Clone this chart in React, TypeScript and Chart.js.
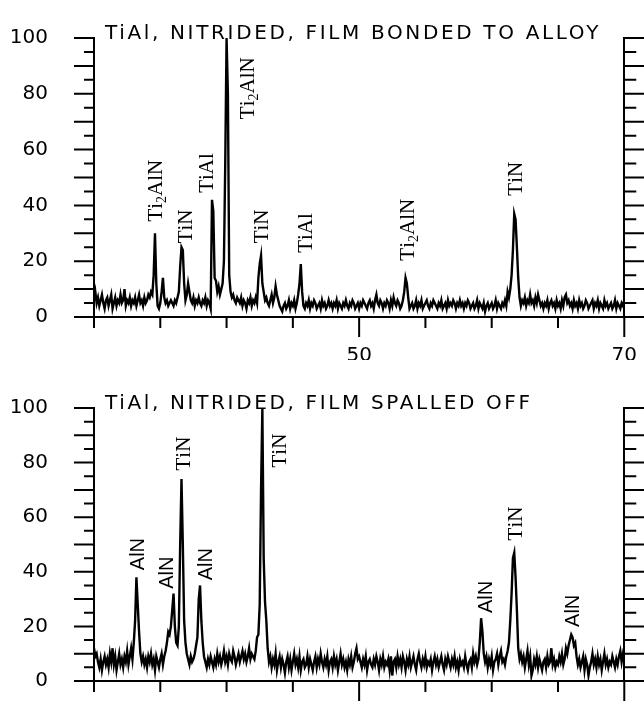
import React, { useEffect, useRef } from 'react';
import { Chart, registerables } from 'chart.js';

Chart.register(...registerables);

// ---------- axes ----------
const twoThetaStart = 30;
const twoThetaStep = 0.1;
const xMin = 30;
const xMax = 70;
const xTickValues = [50, 70];
const xMinorTickValues = [30, 35, 40, 45, 50, 55, 60, 65, 70];
const yTickValues = [0, 20, 40, 60, 80, 100];
const yMinorTickValues = [0, 5, 10, 15, 20, 25, 30, 35, 40, 45, 50, 55, 60, 65, 70, 75, 80, 85, 90, 95, 100];

// ---------- top panel: film bonded to alloy ----------
const bondedTitle = 'TiAl, NITRIDED, FILM BONDED TO ALLOY';
const bondedIntensity = [
  6, 9, 5, 7, 4, 6, 8, 5, 3, 6, // 30
  7, 4, 6, 8, 3, 5, 7, 4, 6, 5, // 31
  8, 5, 6, 10, 4, 6, 5, 7, 4, 6, // 32
  5, 7, 4, 6, 8, 5, 6, 4, 7, 5, // 33
  6, 8, 7, 9, 8, 15, 30, 12, 4, 3, // 34
  5, 9, 14, 7, 5, 6, 4, 5, 6, 5, // 35
  4, 6, 5, 7, 9, 18, 25, 24, 12, 6, // 36
  8, 12, 9, 6, 5, 7, 4, 6, 5, 7, // 37
  5, 4, 6, 5, 7, 4, 6, 5, 3, 42, // 38
  38, 14, 13, 9, 11, 8, 10, 12, 20, 55, // 39
  100, 80, 15, 9, 7, 8, 6, 5, 7, 6, // 40
  5, 7, 4, 6, 5, 3, 6, 5, 7, 4, // 41
  6, 5, 7, 5, 14, 19, 22, 12, 9, 6, // 42
  7, 5, 4, 6, 8, 5, 7, 11, 8, 6, // 43
  4, 3, 2, 4, 5, 3, 4, 6, 3, 5, // 44
  4, 6, 3, 5, 8, 12, 19, 9, 4, 3, // 45
  5, 4, 6, 3, 5, 4, 6, 5, 3, 4, // 46
  5, 3, 6, 4, 5, 3, 4, 6, 4, 5, // 47
  3, 5, 4, 6, 3, 5, 4, 3, 5, 4, // 48
  6, 4, 3, 5, 4, 6, 5, 3, 4, 5, // 49
  3, 5, 4, 6, 5, 4, 3, 5, 6, 4, // 50
  5, 3, 6, 8, 5, 4, 6, 5, 3, 5, // 51
  4, 6, 5, 3, 6, 4, 7, 5, 4, 6, // 52
  5, 3, 4, 6, 9, 14, 12, 7, 3, 4, // 53
  5, 3, 4, 6, 3, 5, 4, 6, 3, 4, // 54
  5, 6, 4, 3, 5, 4, 6, 5, 4, 3, // 55
  5, 4, 6, 3, 4, 5, 3, 6, 4, 5, // 56
  4, 6, 5, 3, 5, 4, 6, 4, 5, 3, // 57
  5, 4, 6, 5, 3, 4, 5, 3, 4, 6, // 58
  3, 5, 4, 3, 5, 2, 4, 5, 3, 4, // 59
  5, 3, 4, 6, 3, 5, 4, 3, 5, 4, // 60
  6, 4, 9, 7, 10, 15, 24, 37, 35, 25, // 61
  14, 7, 4, 6, 5, 7, 4, 6, 5, 8, // 62
  5, 6, 4, 7, 5, 8, 6, 4, 5, 3, // 63
  5, 4, 6, 3, 5, 6, 4, 5, 3, 6, // 64
  4, 5, 3, 6, 4, 7, 8, 5, 6, 4, // 65
  5, 3, 6, 4, 5, 3, 6, 4, 5, 3, // 66
  4, 6, 5, 3, 4, 5, 6, 3, 5, 4, // 67
  6, 3, 5, 4, 3, 6, 4, 5, 3, 4, // 68
  5, 3, 4, 6, 3, 5, 4, 3, 5, 4, // 69
  6, // 70
];
const bondedPeakText = ['Ti₂AlN', 'TiN', 'TiAl', 'Ti₂AlN', 'TiN', 'TiAl', 'Ti₂AlN', 'TiN'];
const bondedPeakTwoTheta = [34.6, 36.87, 38.45, 41.55, 42.6, 45.9, 53.6, 61.77];
const bondedPeakLabelBase = [34.2, 26.4, 44.5, 70.9, 26.4, 23, 20.2, 43.5];

// ---------- bottom panel: film spalled off ----------
const spalledTitle = 'TiAl, NITRIDED, FILM SPALLED OFF';
const spalledIntensity = [
  12, 9, 10, 7, 5, 8, 4, 7, 9, 6, // 30
  8, 5, 10, 7, 12, 6, 9, 4, 7, 10, // 31
  6, 8, 5, 9, 7, 11, 6, 9, 12, 8, // 32
  14, 22, 38, 28, 18, 10, 7, 9, 6, 8, // 33
  5, 9, 7, 10, 6, 8, 4, 9, 7, 5, // 34
  8, 10, 6, 9, 11, 14, 18, 17, 20, 26, // 35
  32, 20, 14, 13, 20, 50, 74, 50, 22, 14, // 36
  10, 8, 6, 9, 7, 8, 10, 13, 16, 30, // 37
  35, 22, 14, 9, 7, 5, 8, 6, 9, 7, // 38
  5, 8, 6, 10, 7, 9, 6, 8, 11, 7, // 39
  9, 6, 10, 8, 7, 11, 9, 6, 8, 10, // 40
  7, 9, 11, 8, 10, 7, 9, 12, 8, 10, // 41
  9, 8, 11, 16, 17, 28, 70, 100, 45, 29, // 42
  22, 12, 7, 9, 5, 8, 6, 10, 4, 7, // 43
  9, 5, 8, 6, 3, 7, 9, 5, 8, 4, // 44
  7, 10, 6, 8, 5, 9, 4, 7, 8, 5, // 45
  6, 9, 5, 8, 6, 4, 7, 9, 5, 8, // 46
  6, 10, 7, 5, 8, 6, 9, 4, 7, 8, // 47
  5, 9, 6, 8, 4, 7, 10, 6, 8, 5, // 48
  7, 4, 8, 6, 9, 5, 7, 10, 12, 8, // 49
  9, 7, 5, 8, 6, 9, 4, 7, 8, 6, // 50
  5, 8, 6, 9, 7, 4, 8, 6, 9, 5, // 51
  7, 6, 8, 4, 9, 2, 7, 8, 5, 9, // 52
  6, 8, 5, 9, 7, 4, 8, 6, 9, 5, // 53
  7, 9, 6, 4, 8, 10, 7, 5, 8, 6, // 54
  9, 5, 7, 6, 8, 4, 7, 9, 6, 8, // 55
  5, 7, 9, 6, 4, 8, 6, 9, 7, 5, // 56
  8, 6, 9, 5, 7, 4, 8, 6, 7, 5, // 57
  9, 6, 4, 7, 8, 5, 10, 7, 9, 6, // 58
  8, 14, 23, 18, 10, 7, 9, 5, 8, 6, // 59
  9, 4, 7, 8, 10, 6, 9, 11, 7, 8, // 60
  6, 9, 11, 14, 22, 32, 45, 47, 38, 26, // 61
  12, 8, 10, 7, 9, 5, 8, 11, 6, 9, // 62
  2, 4, 8, 6, 9, 5, 8, 6, 4, 7, // 63
  8, 5, 9, 6, 7, 12, 6, 8, 5, 7, // 64
  6, 9, 7, 10, 6, 8, 12, 10, 13, 15, // 65
  17, 16, 13, 14, 9, 6, 8, 5, 7, 9, // 66
  4, 8, 6, 2, 5, 7, 10, 6, 8, 5, // 67
  9, 6, 8, 4, 7, 10, 6, 8, 5, 7, // 68
  6, 9, 7, 5, 8, 6, 9, 11, 7, 10, // 69
  8, // 70
];
const spalledPeakText = ['AlN', 'AlN', 'TiN', 'AlN', 'TiN', 'AlN', 'TiN', 'AlN'];
const spalledPeakTwoTheta = [33.25, 35.43, 36.7, 38.38, 43.96, 59.5, 61.77, 66.08];
const spalledPeakLabelBase = [40.6, 33.8, 77.1, 36.9, 78.2, 24.9, 51.5, 19.8];

const INK = '#000000';

function drawRotatedLabel(ctx: CanvasRenderingContext2D, text: string, px: number, py: number) {
  const sans = text === 'AlN';
  const size = sans ? 20 : 21;
  const family = sans ? '"Liberation Sans", sans-serif' : '"Liberation Serif", serif';
  const cap = size * 0.66;
  ctx.save();
  ctx.translate(px + cap / 2, py);
  ctx.rotate(-Math.PI / 2);
  ctx.textAlign = 'left';
  ctx.textBaseline = 'alphabetic';
  let cx = 0;
  for (const ch of Array.from(text)) {
    if (ch === '₂') {
      ctx.font = `${Math.round(size * 0.65)}px ${family}`;
      ctx.fillText('2', cx, 4);
      cx += ctx.measureText('2').width;
    } else {
      ctx.font = `${size}px ${family}`;
      ctx.fillText(ch, cx, 0);
      cx += ctx.measureText(ch).width;
    }
  }
  ctx.restore();
}

const decorPlugin = {
  id: 'xrdDecor',
  afterDraw(chart: any, _args: any, opts: any) {
    const ctx: CanvasRenderingContext2D = chart.ctx;
    const xs = chart.scales.x;
    const ys = chart.scales.y;
    const a = chart.chartArea;
    ctx.save();
    ctx.strokeStyle = INK;
    ctx.lineWidth = 2;
    ctx.beginPath();
    for (const v of yMinorTickValues) {
      const py = ys.getPixelForValue(v);
      const major = v % 10 === 0;
      ctx.moveTo(a.left - (major ? 20 : 10), py);
      ctx.lineTo(a.left, py);
      ctx.moveTo(a.right, py);
      ctx.lineTo(a.right + (major ? 22 : 12), py);
    }
    for (const v of xMinorTickValues) {
      const px = xs.getPixelForValue(v);
      const long = xTickValues.includes(v);
      ctx.moveTo(px, a.bottom);
      ctx.lineTo(px, a.bottom + (long ? 20 : 11));
    }
    ctx.stroke();

    ctx.fillStyle = INK;
    ctx.font = '20px "DejaVu Sans", sans-serif';
    (ctx as any).letterSpacing = '2.65px';
    ctx.textAlign = 'left';
    ctx.textBaseline = 'alphabetic';
    ctx.fillText(opts.title, a.left + 11, a.top + 1);
    (ctx as any).letterSpacing = '0px';

    const texts: string[] = opts.peakText;
    for (let i = 0; i < texts.length; i++) {
      const px = xs.getPixelForValue(opts.peakTwoTheta[i]);
      const py = ys.getPixelForValue(opts.peakBase[i]);
      drawRotatedLabel(ctx, texts[i], px, py);
    }
    ctx.restore();
  },
};

function buildConfig(
  intensity: number[],
  title: string,
  peakText: string[],
  peakTwoTheta: number[],
  peakBase: number[],
  topPad: number,
  xAxisHeight: number,
): any {
  const points = intensity.map((v, i) => ({
    x: Math.round((twoThetaStart + i * twoThetaStep) * 10) / 10,
    y: v,
  }));
  const tickFont = { family: '"DejaVu Sans", sans-serif', size: 20 };
  return {
    type: 'line',
    data: {
      datasets: [
        {
          data: points,
          borderColor: INK,
          borderWidth: 2.4,
          pointRadius: 0,
          tension: 0,
          fill: false,
          xAxisID: 'x',
          yAxisID: 'y',
        },
      ],
    },
    options: {
      animation: false,
      responsive: false,
      maintainAspectRatio: false,
      events: [],
      layout: { padding: { top: topPad, left: 0, right: 0, bottom: 0 } },
      plugins: {
        legend: { display: false },
        tooltip: { enabled: false },
        title: { display: false },
        xrdDecor: { title, peakText, peakTwoTheta, peakBase },
      },
      scales: {
        x: {
          type: 'linear',
          position: 'bottom',
          min: xMin,
          max: xMax,
          afterBuildTicks: (s: any) => {
            s.ticks = xTickValues.map((value) => ({ value }));
          },
          ticks: { font: tickFont, color: INK, padding: 7, maxRotation: 0, autoSkip: false },
          grid: { display: false, drawTicks: true, tickLength: 20 },
          border: { display: true, color: INK, width: 2 },
          afterFit: (s: any) => {
            s.height = xAxisHeight;
          },
        },
        y: {
          type: 'linear',
          position: 'left',
          min: 0,
          max: 100,
          afterBuildTicks: (s: any) => {
            s.ticks = yTickValues.map((value) => ({ value }));
          },
          ticks: { font: tickFont, color: INK, padding: 26, autoSkip: false },
          grid: { display: false, drawTicks: true, tickLength: 20 },
          border: { display: true, color: INK, width: 2 },
          afterFit: (s: any) => {
            s.width = 94;
          },
        },
        yR: {
          type: 'linear',
          position: 'right',
          min: 0,
          max: 100,
          ticks: { display: false },
          grid: { display: false, drawTicks: false },
          border: { display: true, color: INK, width: 2 },
          afterFit: (s: any) => {
            s.width = 19;
          },
        },
      },
    },
    plugins: [decorPlugin],
  };
}

export default function App() {
  const topRef = useRef<HTMLCanvasElement>(null);
  const bottomRef = useRef<HTMLCanvasElement>(null);

  useEffect(() => {
    const top = new Chart(
      topRef.current as HTMLCanvasElement,
      buildConfig(bondedIntensity, bondedTitle, bondedPeakText, bondedPeakTwoTheta, bondedPeakLabelBase, 25, 43),
    );
    const bottom = new Chart(
      bottomRef.current as HTMLCanvasElement,
      buildConfig(spalledIntensity, spalledTitle, spalledPeakText, spalledPeakTwoTheta, spalledPeakLabelBase, 48, 18),
    );
    return () => {
      top.destroy();
      bottom.destroy();
    };
  }, []);

  return (
    <div style={{ position: 'absolute', left: 0, top: 0, width: 644, height: 719, background: '#ffffff', overflow: 'hidden' }}>
      <canvas ref={topRef} width={644} height={360} style={{ display: 'block', width: 644, height: 360 }} />
      <canvas ref={bottomRef} width={644} height={359} style={{ display: 'block', width: 644, height: 359 }} />
    </div>
  );
}
